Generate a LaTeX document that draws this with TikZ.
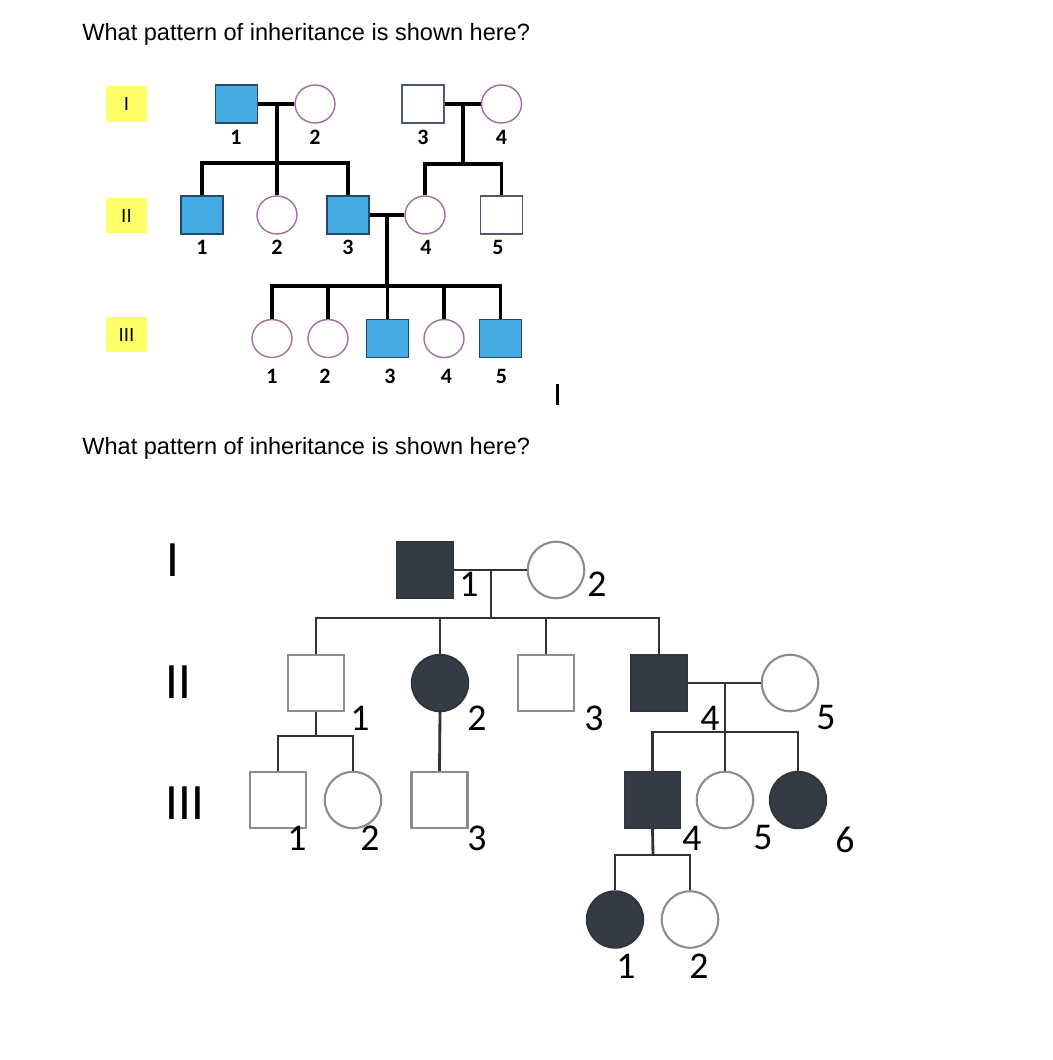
\documentclass[tikz,border=0pt]{standalone}
\usepackage{fontspec}
\setmainfont{Liberation Sans}
\newfontfamily\calfont{Carlito}
\usepackage{xcolor}
\usepackage{tikz}
\usetikzlibrary{positioning, shapes.geometric}
\definecolor{genyellow}{RGB}{255,255,104}
\definecolor{affblue}{RGB}{68,170,226}
\definecolor{affblueline}{RGB}{36,72,110}
\definecolor{femline}{RGB}{160,112,160}
\definecolor{maleline}{RGB}{78,88,120}
\definecolor{affdark}{RGB}{52,59,68}
\definecolor{openline}{RGB}{140,140,140}
\definecolor{kinline}{RGB}{50,50,50}

\begin{document}
\begin{tikzpicture}[
    x=0.02cm, y=-0.02cm,
    every node/.style={inner sep=0pt},
    question/.style={anchor=base west, font=\fontsize{13.4}{16}\selectfont},
    genbox/.style={
        rectangle,
        fill=genyellow,
        minimum width=0.82cm,
        minimum height=0.72cm,
        font=\fontsize{10.8}{12}\selectfont
    },
    maleaff/.style={
        rectangle,
        draw=affblueline,
        line width=0.8pt,
        fill=affblue,
        minimum width=0.84cm,
        minimum height=0.76cm
    },
    maleopen/.style={
        rectangle,
        draw=maleline,
        line width=0.8pt,
        fill=white,
        minimum width=0.84cm,
        minimum height=0.76cm
    },
    femopen/.style={
        ellipse,
        draw=femline,
        line width=0.8pt,
        fill=white,
        minimum width=0.8cm,
        minimum height=0.76cm
    },
    idnum/.style={font=\calfont\bfseries\fontsize{12.5}{14}\selectfont},
    kin/.style={line width=1.9pt, draw=black},
    % second pedigree
    genbig/.style={font=\calfont\fontsize{29}{32}\selectfont},
    sqdark/.style={
        rectangle,
        draw=affdark!90!black,
        line width=1.1pt,
        fill=affdark,
        minimum size=1.12cm
    },
    sqopen/.style={
        rectangle,
        draw=openline,
        line width=1.2pt,
        fill=white,
        minimum size=1.12cm
    },
    cidark/.style={
        circle,
        draw=affdark!90!black,
        line width=1.1pt,
        fill=affdark,
        minimum size=1.13cm
    },
    ciopen/.style={
        circle,
        draw=openline,
        line width=1.2pt,
        fill=white,
        minimum size=1.13cm
    },
    bignum/.style={font=\calfont\fontsize{21.5}{24}\selectfont},
    link/.style={line width=1.6pt, draw=kinline}
]
\useasboundingbox (0,0) rectangle (1052,1060);

% questions
\node[question] (q1) at (82,40.7) {What pattern of inheritance is shown here?};
\node[question] (q2) at (82,454) {What pattern of inheritance is shown here?};
\draw[line width=1.7pt] (557.5,384) -- (557.5,405);

% ---- first pedigree ----
\node[genbox] (tgI) at (126.5,104) {I};
\node[genbox] (tgII) at (126.5,215.5) {II};
\node[genbox] (tgIII) at (126.5,334.5) {III};

\node[maleaff] (tI1) at (236.5,104) {};
\node[femopen] (tI2) at (315,104) {};
\node[maleopen] (tI3) at (423,104) {};
\node[femopen] (tI4) at (501.5,104) {};

\node[maleaff] (tII1) at (202,215) {};
\node[femopen] (tII2) at (277,215) {};
\node[maleaff] (tII3) at (348,215) {};
\node[femopen] (tII4) at (425,215) {};
\node[maleopen] (tII5) at (501.5,215) {};

\node[femopen] (tIII1) at (272,338.5) {};
\node[femopen] (tIII2) at (328,338.5) {};
\node[maleaff] (tIII3) at (387.5,338.5) {};
\node[femopen] (tIII4) at (444,338.5) {};
\node[maleaff] (tIII5) at (500.5,338.5) {};

\node[idnum] at (236,137) {1};
\node[idnum] at (315,137) {2};
\node[idnum] at (423,137) {3};
\node[idnum] at (501.5,137) {4};
\node[idnum] at (202,247.5) {1};
\node[idnum] at (277,247.5) {2};
\node[idnum] at (348,247.5) {3};
\node[idnum] at (426,247.5) {4};
\node[idnum] at (498,247.5) {5};
\node[idnum] at (272,376) {1};
\node[idnum] at (325,376) {2};
\node[idnum] at (390,376) {3};
\node[idnum] at (446.5,376) {4};
\node[idnum] at (501.5,376) {5};

\coordinate (tmA) at (277,104);
\coordinate (tsA) at (277,163);
\coordinate (tmB) at (463,104);
\coordinate (tsB) at (463,164);
\coordinate (tmC) at (387,216);
\coordinate (tsC) at (387,286);

\draw[kin] (tI1.east) -- (tI2.west);
\draw[kin] (tI3.east) -- (tI4.west);
\draw[kin] (tII3.east) -- (tII4.west);
\draw[kin] (tmA) -- (tsA);
\draw[kin] (tII1.north) |- (tsA) -| (tII3.north);
\draw[kin] (tII2.north) -- (tsA -| tII2.north);
\draw[kin] (tmB) -- (tsB);
\draw[kin] (tII4.north) |- (tsB) -| (tII5.north);
\draw[kin] (tmC) -- (tsC);
\draw[kin] (tIII1.north) |- (tsC) -| (tIII5.north);
\draw[kin] (tIII2.north) -- (tsC -| tIII2.north);
\draw[kin] (tIII3.north) -- (tsC -| tIII3.north);
\draw[kin] (tIII4.north) -- (tsC -| tIII4.north);

% ---- second pedigree ----
\node[genbig] (bgI) at (172.5,560) {I};
\node[genbig] (bgII) at (178.5,682) {II};
\node[genbig] (bgIII) at (185,803.5) {III};

\node[sqdark] (bI1) at (425,570) {};
\node[ciopen] (bI2) at (556,570) {};

\node[sqopen] (bII1) at (316,683) {};
\node[cidark] (bII2) at (440,683) {};
\node[sqopen] (bII3) at (546,683) {};
\node[sqdark] (bII4) at (659,683) {};
\node[ciopen] (bII5) at (790,683) {};

\node[sqopen] (bIII1) at (278,800) {};
\node[ciopen] (bIII2) at (353,800) {};
\node[sqopen] (bIII3) at (439.5,800) {};
\node[sqdark] (bIII4) at (652.5,800) {};
\node[ciopen] (bIII5) at (725,800) {};
\node[cidark] (bIII6) at (798,800) {};

\node[cidark] (bIV1) at (615,919.5) {};
\node[ciopen] (bIV2) at (690,919.5) {};

\node[bignum] at (469,584) {1};
\node[bignum] at (597,584) {2};
\node[bignum] at (360,718) {1};
\node[bignum] at (477,718) {2};
\node[bignum] at (594,718) {3};
\node[bignum] at (710,718) {4};
\node[bignum] at (826,718) {5};
\node[bignum] at (297,838) {1};
\node[bignum] at (370,838) {2};
\node[bignum] at (477,838) {3};
\node[bignum] at (692,838) {4};
\node[bignum] at (763,838) {5};
\node[bignum] at (845,840) {6};
\node[bignum] at (626,966) {1};
\node[bignum] at (699,966) {2};

\coordinate (bmA) at (491,570);
\coordinate (bsA) at (491,618);
\coordinate (bsB) at (316,736);
\coordinate (bmC) at (725,682);
\coordinate (bsC) at (725,732);
\coordinate (bsD) at (653,855);

\draw[link] (bI1.east) -- (bI2.west);
\draw[link] (bmA) -- (bsA);
\draw[link] (bII1.north) |- (bsA) -| (bII4.north);
\draw[link] (bII2.north) -- (bsA -| bII2.north);
\draw[link] (bII3.north) -- (bsA -| bII3.north);
\draw[link] (bII1.south) -- (bsB);
\draw[link] (bIII1.north) |- (bsB) -| (bIII2.north);
\draw[link] (bII2.south) -- (bIII3.north);
\draw[link] (bII4.east) -- (bII5.west);
\draw[link] (bmC) -- (bsC);
\draw[link] (bIII4.north) |- (bsC) -| (bIII6.north);
\draw[link] (bIII5.north) -- (bsC -| bIII5.north);
\draw[link] (bIII4.south) -- (bsD);
\draw[link] (bIV1.north) |- (bsD) -| (bIV2.north);

\end{tikzpicture}
\end{document}
